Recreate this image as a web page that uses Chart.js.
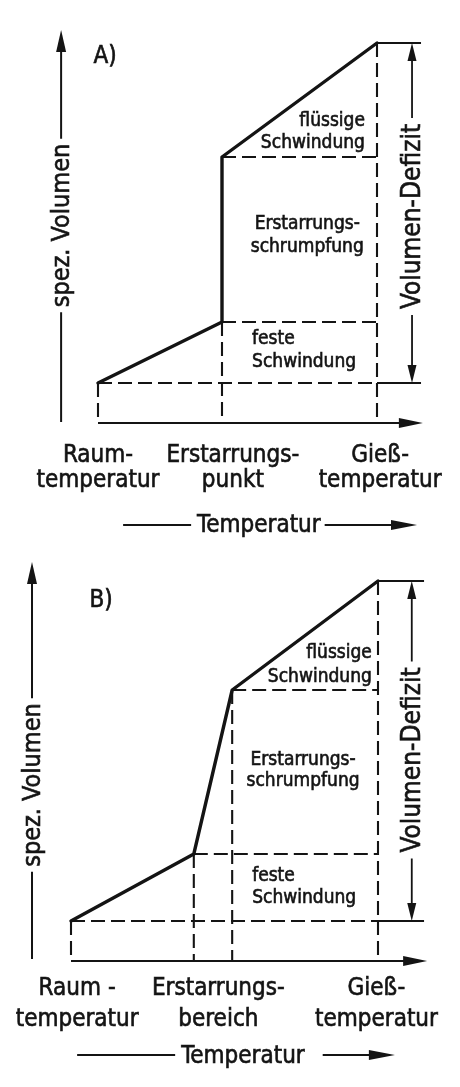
<!DOCTYPE html>
<html><head><meta charset="utf-8">
<script src="https://cdn.jsdelivr.net/npm/chart.js@4.4.0/dist/chart.umd.min.js"></script>
<style>
html,body{margin:0;padding:0;background:#fff;}
#wrap{position:relative;width:460px;height:1087px;overflow:hidden;}
canvas{position:absolute;left:0;display:block;}
</style></head><body>
<div id="wrap">
<canvas id="cA" width="460" height="543" style="top:0"></canvas>
<canvas id="cB" width="460" height="544" style="top:543px"></canvas>
</div>
<script>
// ---------- DATA ----------
// Panel A: reines Metall (Erstarrungspunkt)
const curveA_temp = [0, 4, 4, 9];          // Raumtemp., Erstarrungspunkt (fest), Erstarrungspunkt (flüssig), Gießtemp.
const curveA_vol  = [0, 6.1, 22.6, 34];    // spez. Volumen
const ticksA_pos  = [0, 4.35, 9.1];
const ticksA_text = [["Raum-","temperatur"],["Erstarrungs-","punkt"],["Gieß-","temperatur"]];
// Panel B: Legierung (Erstarrungsbereich)
const curveB_temp = [0, 4, 5.25, 10];
const curveB_vol  = [0, 6.7, 23.1, 34];
const ticksB_pos  = [0.2, 4.8, 9.95];
const ticksB_text = [["Raum -","temperatur"],["Erstarrungs-","bereich"],["Gieß-","temperatur"]];
// Texts
const regionText   = [["flüssige","Schwindung"],["Erstarrungs-","schrumpfung"],["feste","Schwindung"]];
const axisTitleX   = "Temperatur";
const axisTitleY   = "spez. Volumen";
const deficitLabel = "Volumen-Defizit";
const panelLetters = ["A)","B)"];

// ---------- DRAWING ----------
const INK = '#141414';
const FONT = '"DejaVu Sans Condensed", "DejaVu Sans", "Liberation Sans", sans-serif';

function setFont(ctx, px) {
  ctx.font = px + 'px ' + FONT;
  try { ctx.fontStretch = 'condensed'; } catch (e) {}
}
function txt(ctx, s, x, y) {
  ctx.fillText(s, x, y);
  ctx.save(); ctx.lineWidth = 0.6; ctx.strokeText(s, x, y); ctx.restore();
}

function buildDatasets(T, V, extEnd) {
  const n = T.length, tEnd = T[n-1];
  const pts = T.map((t,i)=>({x:t,y:V[i]}));
  const ds = [{data: pts, borderColor: INK, borderWidth: 3.4, borderJoinStyle:'round', borderCapStyle:'round', clip:false}];
  const dash = {borderColor: INK, borderWidth: 2.1, borderDash:[14,6], clip:false};
  for (let i = 0; i < n-1; i++) {
    ds.push(Object.assign({data:[{x:T[i],y:V[i]},{x:tEnd,y:V[i]}]}, dash));
  }
  ds.push({data:[{x:tEnd,y:V[n-1]},{x:extEnd,y:V[n-1]}], borderColor:INK, borderWidth:2, clip:false});
  ds.push({data:[{x:tEnd,y:V[0]},{x:extEnd,y:V[0]}], borderColor:INK, borderWidth:2, clip:false});
  const seen = {};
  T.forEach((t,i)=>{ if (seen[t]===undefined || V[i] < seen[t]) seen[t] = V[i]; });
  Object.keys(seen).forEach(k=>{
    const t = +k;
    ds.push(Object.assign({data:[{x:t,y:seen[k]},{x:t,y:-4}]}, dash));
  });
  return ds;
}

function head(ctx, x, y, dx, dy, len, hw) {
  const bx = x - dx*len, by = y - dy*len;
  const px = -dy, py = dx;
  ctx.beginPath();
  ctx.moveTo(x, y);
  ctx.lineTo(bx + px*hw, by + py*hw);
  ctx.lineTo(bx - px*hw, by - py*hw);
  ctx.closePath();
  ctx.fill();
}

const deco = {
  id: 'deco',
  afterDatasetsDraw(chart, args, o) {
    const ctx = chart.ctx, xs = chart.scales.x, ys = chart.scales.y;
    const X = v => xs.getPixelForValue(v), Y = v => ys.getPixelForValue(v);
    ctx.save();
    ctx.strokeStyle = INK; ctx.fillStyle = INK; ctx.lineCap = 'butt';

    // y axis with title
    const ax = X(o.yAxisAt), yTop = Y(o.yAxisTop), yBot = Y(o.yAxisBottom), yc = Y(o.yTitleAt);
    setFont(ctx, 25);
    const wT = ctx.measureText(axisTitleY).width;
    ctx.lineWidth = 2;
    ctx.beginPath();
    ctx.moveTo(ax, yBot); ctx.lineTo(ax, yc + wT/2 + 5);
    ctx.moveTo(ax, yc - wT/2 - 5); ctx.lineTo(ax, yTop + 18);
    ctx.stroke();
    head(ctx, ax, yTop, 0, -1, 22, 5);
    ctx.save(); ctx.translate(ax, yc); ctx.rotate(-Math.PI/2);
    ctx.textAlign = 'center'; ctx.textBaseline = 'middle';
    txt(ctx, axisTitleY, 0, 1); ctx.restore();

    // x axis
    const xy = Y(o.xAxisAt), x0 = X(0), xEnd = X(o.xAxisEnd);
    ctx.lineWidth = 2;
    ctx.beginPath(); ctx.moveTo(x0, xy); ctx.lineTo(xEnd - 18, xy); ctx.stroke();
    head(ctx, xEnd, xy, 1, 0, 24, 5);

    // deficit double arrow
    const dx = X(o.defX), dTop = Y(o.defTop), dBot = Y(0), dc = Y(o.defAt);
    setFont(ctx, 26);
    const wD = ctx.measureText(deficitLabel).width;
    ctx.lineWidth = 1.8;
    ctx.beginPath();
    ctx.moveTo(dx, dTop + 14); ctx.lineTo(dx, dc - wD/2 - 6);
    ctx.moveTo(dx, dc + wD/2 + 6); ctx.lineTo(dx, dBot - 14);
    ctx.stroke();
    head(ctx, dx, dTop, 0, -1, 18, 4.5);
    head(ctx, dx, dBot, 0, 1, 18, 4.5);
    ctx.save(); ctx.translate(dx, dc); ctx.rotate(-Math.PI/2);
    ctx.textAlign = 'center'; ctx.textBaseline = 'middle';
    txt(ctx, deficitLabel, 0, 1); ctx.restore();

    // tick labels
    setFont(ctx, 24); ctx.textAlign = 'center'; ctx.textBaseline = 'alphabetic';
    o.ticks.text.forEach((lines, i) => {
      const px = X(o.ticks.pos[i]);
      lines.forEach((s, j) => txt(ctx, s, px, xy + o.ticks.base[j]));
    });

    // temperature arrow title
    const rowY = xy + o.row.lineDy, baseY = xy + o.row.baseDy;
    const tc = X(o.row.textAt), wX = ctx.measureText(axisTitleX).width;
    txt(ctx, axisTitleX, tc, baseY);
    const tip = X(o.row.end);
    ctx.lineWidth = 2;
    ctx.beginPath();
    ctx.moveTo(X(o.row.start), rowY); ctx.lineTo(tc - wX/2 - 6, rowY);
    ctx.moveTo(tc + wX/2 + o.row.gapR, rowY); ctx.lineTo(tip - 20, rowY);
    ctx.stroke();
    head(ctx, tip, rowY, 1, 0, 26, 5);

    // region labels
    setFont(ctx, 19); ctx.textBaseline = 'middle';
    o.regions.forEach((r, i) => {
      ctx.textAlign = r.align;
      const lines = regionText[i];
      const cy = Y(r.y), h = r.lh;
      lines.forEach((s, j) => txt(ctx, s, X(r.x), cy + (j - (lines.length-1)/2) * h));
    });

    // panel letter
    setFont(ctx, 24); ctx.textAlign = 'center';
    txt(ctx, o.letter, X(o.letterAt[0]), Y(o.letterAt[1]));
    ctx.restore();
  }
};

function makeChart(id, T, V, cfg) {
  return new Chart(document.getElementById(id), {
    type: 'line',
    data: { datasets: buildDatasets(T, V, cfg.extEnd) },
    options: {
      responsive: false, animation: false, devicePixelRatio: 1,
      layout: { padding: cfg.pad },
      elements: { point: { radius: 0 }, line: { tension: 0 } },
      plugins: { legend: { display: false }, tooltip: { enabled: false }, deco: cfg.deco },
      scales: {
        x: { type: 'linear', display: false, min: 0, max: cfg.xMax },
        y: { type: 'linear', display: false, min: 0, max: 34 }
      }
    },
    plugins: [deco]
  });
}

makeChart('cA', curveA_temp, curveA_vol, {
  xMax: 9, extEnd: 10.42,
  pad: { left: 98, right: 83, top: 43, bottom: 160 },
  deco: {
    yAxisAt: -1.19, yAxisTop: 35.3, yAxisBottom: -3.9, yTitleAt: 15.75,
    xAxisAt: -4, xAxisEnd: 10.48,
    defX: 10.13, defTop: 34, defAt: 16.65,
    ticks: { pos: ticksA_pos, text: ticksA_text, base: [39, 64] },
    row: { start: 0.81, textAt: 5.19, end: 10.29, lineDy: 102, baseDy: 109, gapR: 4 },
    regions: [
      { x: 8.61, y: 25.1, align: 'right', lh: 22 },
      { x: 6.75, y: 14.75, align: 'center', lh: 23 },
      { x: 4.97, y: 3.2, align: 'left', lh: 23 }
    ],
    letter: panelLetters[0], letterAt: [0.23, 32.6]
  }
});

makeChart('cB', curveB_temp, curveB_vol, {
  xMax: 10, extEnd: 11.5,
  pad: { left: 71, right: 82, top: 38, bottom: 166 },
  deco: {
    yAxisAt: -1.27, yAxisTop: 35.9, yAxisBottom: -3.8, yTitleAt: 13.6,
    xAxisAt: -4, xAxisEnd: 11.6,
    defX: 11.1, defTop: 34, defAt: 16.1,
    ticks: { pos: ticksB_pos, text: ticksB_text, base: [34, 65] },
    row: { start: 0.2, textAt: 5.6, end: 10.55, lineDy: 94, baseDy: 102, gapR: 18 },
    regions: [
      { x: 9.8, y: 25.6, align: 'right', lh: 24 },
      { x: 7.56, y: 15.05, align: 'center', lh: 21 },
      { x: 5.9, y: 3.4, align: 'left', lh: 22 }
    ],
    letter: panelLetters[1], letterAt: [0.98, 32]
  }
});
</script>
</body></html>
